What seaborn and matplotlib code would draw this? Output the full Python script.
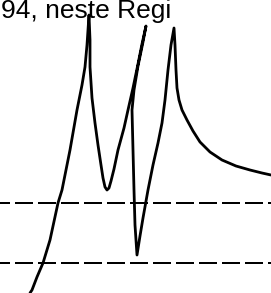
import numpy as np
import pandas as pd
from matplotlib import pyplot as plt
import seaborn as sns

# traced curve (horizontal position, height)
x_vals = [30, 32, 37, 43, 50, 58, 62, 70, 77, 82, 85, 87, 89,
          90, 90, 92, 95, 98, 101, 103, 105, 107, 109, 111, 114, 118, 124, 128, 133, 138, 142, 146,
          143, 138, 134, 132, 133, 134, 135, 137,
          140, 143, 148, 153, 158, 162, 165, 168, 171, 174,
          175, 176, 177, 179, 182, 187, 193, 200, 210, 222, 236, 250, 262, 271]
y_vals = [0, 3, 16, 30, 53, 90, 103, 143, 183, 208, 226, 248, 278,
          253, 226, 195, 170, 148, 128, 115, 106, 103, 105, 112, 124, 143, 165, 183, 205, 229, 249, 267,
          251, 227, 203, 183, 143, 103, 68, 38,
          57, 75, 103, 128, 150, 170, 193, 223, 248, 265,
          248, 223, 205, 193, 183, 173, 162, 151, 141, 133, 127, 123, 120, 118]

# dashed reference levels
ref_levels = [90, 30]

label_text = "94, neste Regi"

sns.set_style("white")
plt.rcParams['font.family'] = ['Liberation Sans', 'DejaVu Sans']

fig = plt.figure(figsize=(2.71, 2.93), dpi=100)
ax = fig.add_axes([0, 0, 1, 1])

df = pd.DataFrame({"x": x_vals, "y": y_vals})
sns.lineplot(data=df, x="x", y="y", sort=False, estimator=None,
             color="black", lw=2.0, ax=ax)

for lvl in ref_levels:
    ax.axhline(lvl, color="black", lw=1.44, linestyle=(4, (9, 2.5)))

ax.text(1, 293 - 18, label_text, fontsize=19, va="baseline", ha="left",
        color="black")

ax.set_xlim(0, 271)
ax.set_ylim(0, 293)
ax.axis("off")

fig.savefig("out.png", dpi=100, facecolor="white")
plt.close(fig)
